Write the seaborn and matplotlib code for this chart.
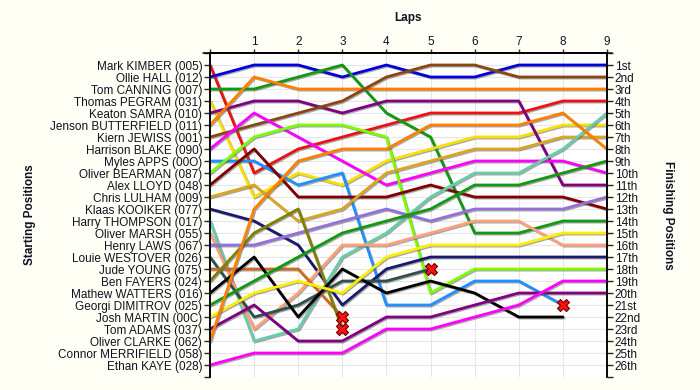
"""
Lap chart - position of every driver at the end of each lap.
"""

import matplotlib
matplotlib.use("Agg")
import matplotlib.pyplot as plt
import matplotlib.patheffects as pe
import pandas as pd
import seaborn as sns

# ── data ────────────────────────────────────────────────────────────────
LAPS       = list(range(10))
LAP_LABELS = ["", "1", "2", "3", "4", "5", "6", "7", "8", "9"]

drivers = [
    "Mark KIMBER (005)", "Ollie HALL (012)", "Tom CANNING (007)",
    "Thomas PEGRAM (031)", "Keaton SAMRA (010)", "Jenson BUTTERFIELD (011)",
    "Kiern JEWISS (001)", "Harrison BLAKE (090)", "Myles APPS (00O)",
    "Oliver BEARMAN (087)", "Alex LLOYD (048)", "Chris LULHAM (009)",
    "Klaas KOOIKER (077)", "Harry THOMPSON (017)", "Oliver MARSH (055)",
    "Henry LAWS (067)", "Louie WESTOVER (026)", "Jude YOUNG (075)",
    "Ben FAYERS (024)", "Mathew WATTERS (016)", "Georgi DIMITROV (025)",
    "Josh MARTIN (00C)", "Tom ADAMS (037)", "Oliver CLARKE (062)",
    "Connor MERRIFIELD (058)", "Ethan KAYE (028)",
]

colors = [
    "#ee1111", "#0000dd", "#119911", "#f8e000", "#800080", "#ff8000",
    "#8b4513", "#ff00ff", "#1e90ff", "#7cfc00", "#800000", "#daa520",
    "#191970", "#66cdaa", "#ffa07a", "#9370db", "#2f4f4f", "#d2691e",
    "#808000", "#000000", "#119911", "#ffee00", "#800080", "#ff7f00",
    "#808080", "#ff00ff",
]

# position at the end of each lap (lap 0 = grid), None = not running
kimber      = [1, 10, 8, 7, 6, 5, 5, 5, 4, 4]
hall        = [2, 1, 1, 2, 1, 2, 2, 1, 1, 1]
canning     = [3, 3, 2, 1, 5, 7, 15, 15, 14, 14]
pegram      = [4, 12, 10, 11, 9, 8, 7, 7, 6, 6]
samra       = [5, 4, 4, 5, 4, 4, 4, 4, 11, 11]
butterfield = [6, 2, 3, 3, 3, 3, 3, 3, 3, 3]
jewiss      = [7, 6, 5, 4, 2, 1, 1, 2, 2, 2]
blake       = [8, 5, 7, 9, 11, 10, 9, 9, 9, 10]
apps        = [9, 9, 11, 10, 21, 21, 19, 19, 21, None]
bearman     = [10, 7, 6, 6, 7, 20, 18, 18, 18, 18]
lloyd       = [11, 8, 12, 12, 12, 11, 12, 12, 12, 13]
lulham      = [12, 11, 14, 13, 10, 9, 8, 8, 7, 7]
kooiker     = [13, 14, 16, 21, 18, 17, 17, 17, 17, 17]
thompson    = [14, 24, 23, 17, 15, 12, 10, 10, 8, 5]
marsh       = [15, 23, 20, 16, 16, 15, 14, 14, 16, 16]
laws        = [16, 16, 15, 14, 13, 14, 13, 13, 13, 12]
westover    = [17, 22, 21, 19, 19, 18, None, None, None, None]
young       = [18, 18, 18, 22, None, None, None, None, None, None]
fayers      = [19, 15, 13, 23, None, None, None, None, None, None]
watters     = [20, 17, 22, 18, 20, 19, 20, 22, 22, None]
dimitrov    = [21, 19, 17, 15, 14, 13, 11, 11, 10, 9]
martin      = [22, 20, 19, 20, 17, 16, 16, 16, 15, 15]
adams       = [23, 21, 24, 24, 22, 22, 21, 20, 20, 20]
clarke      = [24, 13, 9, 8, 8, 6, 6, 6, 5, 8]
merrifield  = [25, None, None, None, None, None, None, None, None, None]
kaye        = [26, 25, 25, 25, 23, 23, 22, 21, 19, 19]

positions = [
    kimber, hall, canning, pegram, samra, butterfield, jewiss, blake, apps,
    bearman, lloyd, lulham, kooiker, thompson, marsh, laws, westover, young,
    fayers, watters, dimitrov, martin, adams, clarke, merrifield, kaye,
]

finish_labels = [
    "1st", "2nd", "3rd", "4th", "5th", "6th", "7th", "8th", "9th", "10th",
    "11th", "12th", "13th", "14th", "15th", "16th", "17th", "18th", "19th",
    "20th", "21st", "22nd", "23rd", "24th", "25th", "26th",
]

# retirements
retired_lap = [3, 3, 5, 8]
retired_pos = [22, 23, 18, 21]

BG   = "#fffff5"
TEXT = "#111122"


def main():
    sns.set_style("white")
    plt.rcParams["font.family"] = ["Liberation Sans", "DejaVu Sans"]
    plt.rcParams["font.size"] = 8.5

    rows = [
        (d, lap, p)
        for d, pos in zip(drivers, positions)
        for lap, p in zip(LAPS, pos)
        if p is not None
    ]
    df = pd.DataFrame(rows, columns=["driver", "lap", "pos"])

    fig = plt.figure(figsize=(7, 3.9), dpi=100, facecolor=BG)
    ax = fig.add_axes([0.3, 0.0333, 0.5671, 0.8308])
    ax.set_facecolor("white")

    n = len(drivers)
    for p in range(1, n + 1):
        ax.axhline(p, color="#e6e6e6", lw=0.8, zorder=0)
    for lap in LAPS[1:-1]:
        ax.axvline(lap, color="#e6e6e6", lw=0.8, zorder=0)

    sns.lineplot(
        data=df, x="lap", y="pos", hue="driver", hue_order=drivers,
        palette=dict(zip(drivers, colors)), estimator=None, sort=False,
        legend=False, lw=2.0, ax=ax,
    )
    shadow = [pe.SimpleLineShadow(offset=(0.8, -0.8), shadow_color="#555555", alpha=0.5),
              pe.Normal()]
    for line in ax.lines[n + len(LAPS) - 2:]:
        line.set_path_effects(shadow)
        line.set_solid_joinstyle("round")

    sns.scatterplot(
        x=retired_lap, y=retired_pos, marker="X", s=75, color="#ff1010",
        edgecolor="#660000", linewidth=0.8, zorder=6, ax=ax,
    )

    ax.set_xlim(0, 9)
    ax.set_ylim(n + 1, 0)

    # top axis with laps
    ax.xaxis.tick_top()
    ax.xaxis.set_label_position("top")
    ax.set_xticks(LAPS)
    ax.set_xticklabels(LAP_LABELS, color=TEXT)
    ax.set_xlabel("Laps", fontweight="bold", labelpad=11, color=TEXT)

    # left: starting grid
    ax.set_yticks(range(0, n + 2))
    ax.set_yticklabels([""] + drivers + [""], color=TEXT)
    ax.set_ylabel("")

    # right: finishing positions
    ax2 = ax.twinx()
    ax2.set_ylim(n + 1, 0)
    ax2.set_yticks(range(0, n + 2))
    ax2.set_yticklabels([""] + finish_labels + [""], color=TEXT)

    for a in (ax, ax2):
        a.tick_params(axis="both", length=4, width=1.0, pad=1.5, direction="out")
        for side, sp in a.spines.items():
            sp.set_visible(side in ("left", "right", "top"))
            sp.set_linewidth(1.1)
            sp.set_color("black")
    ax.tick_params(axis="y", left=True, right=False)
    ax.tick_params(axis="x", top=True, bottom=False, length=3, pad=0.5)
    ax2.tick_params(axis="y", right=True, left=False)

    # top axis line runs a little past both side axes
    ax.plot([-0.16, 9.12], [0, 0], color="black", lw=1.1, clip_on=False, zorder=7)

    fig.text(0.043, 0.449, "Starting Positions", rotation=90, fontweight="bold",
             ha="center", va="center", color=TEXT)
    fig.text(0.954, 0.449, "Finishing Positions", rotation=270, fontweight="bold",
             ha="center", va="center", color=TEXT)

    fig.savefig("out.png", dpi=100, facecolor=BG)


if __name__ == "__main__":
    main()
